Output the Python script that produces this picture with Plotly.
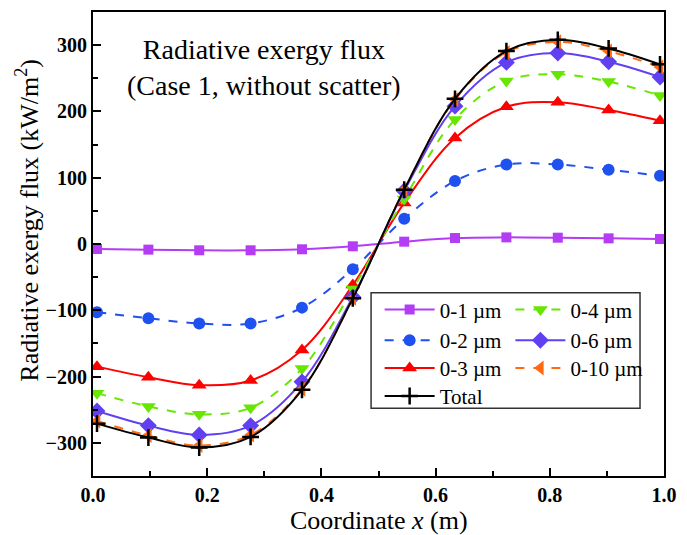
import plotly.graph_objects as go

x = [0.007, 0.097, 0.186, 0.276, 0.366, 0.455, 0.545, 0.634, 0.724, 0.814, 0.903, 0.993]
y_01 = [-7.5, -8.5, -9.5, -9.5, -8, -3.5, 3.5, 9, 10, 9.5, 8.5, 7.5]
y_02 = [-103, -112, -120, -120, -96, -38, 38, 95, 120, 120, 112, 103]
y_03 = [-185, -201, -213, -206, -160, -62, 62, 160, 207, 214, 202, 186]
y_04 = [-225, -245, -257, -247, -188, -68, 68, 188, 246, 256, 245, 224]
y_06 = [-252, -274, -288, -274, -208, -80, 80, 208, 274, 288, 275, 252]
y_10 = [-267, -289, -304, -288, -219, -82, 82, 218, 289, 305, 291, 267]
y_tot = [-271, -292, -307, -291, -220, -82, 82, 219, 291, 308, 295, 271]

# name, values, colour, dash, symbol, size, legend column, legend row
series = [
    ("0-1 µm", y_01, "#B43CF5", "solid", "square", 10, 0, 0),
    ("0-2 µm", y_02, "#1F50F0", "dash", "circle", 12, 0, 1),
    ("0-3 µm", y_03, "#FF0000", "solid", "triangle-up", 13, 0, 2),
    ("0-4 µm", y_04, "#66E600", "dash", "triangle-down", 13, 1, 0),
    ("0-6 µm", y_06, "#6040F0", "solid", "diamond", 13, 1, 1),
    ("0-10 µm", y_10, "#FF6A13", "dash", "triangle-left", 13, 1, 2),
    ("Total", y_tot, "#000000", "solid", "cross-thin", 12, 0, 3),
]

FONT = "Liberation Serif"
col_x = [0.502, 0.731]
row_y = [0.3583, 0.2918, 0.2318, 0.1717]

fig = go.Figure()
legends = {}
for i, (name, y, color, dash, sym, size, col, row) in enumerate(series):
    leg = "legend" if i == 0 else f"legend{i + 1}"
    legends[leg] = dict(x=col_x[col], y=row_y[row], xanchor="left", yanchor="middle",
                        bgcolor="rgba(0,0,0,0)", borderwidth=0, itemwidth=50, visible=True,
                        font=dict(family=FONT, size=21, color="black"))
    fig.add_trace(go.Scatter(
        x=x, y=y, name=name, mode="lines+markers", showlegend=True,
        line=dict(color=color, width=2, dash=dash, shape="spline", smoothing=1.0),
        marker=dict(symbol=sym, size=size, color=color,
                    line=dict(color=color, width=2.5 if sym == "cross-thin" else 0)),
        legend=leg,
    ))

fig.add_shape(type="rect", xref="paper", yref="paper", x0=0.487, x1=0.958, y0=0.146, y1=0.395,
              line=dict(color="#333333", width=1.5))

fig.add_annotation(x=0.299, y=0.880, xref="paper", yref="paper", showarrow=False,
                   text="Radiative exergy flux<br>(Case 1, without scatter)",
                   font=dict(family=FONT, size=28, color="black"), align="center",
                   xanchor="center", yanchor="middle")

fig.add_annotation(x=0.5, y=-0.095, xref="paper", yref="paper", showarrow=False,
                   text="Coordinate <i>x</i> (m)",
                   font=dict(family=FONT, size=26, color="black"),
                   xanchor="center", yanchor="middle")

fig.add_annotation(x=-0.115, y=0.551, xref="paper", yref="paper", showarrow=False,
                   text="Radiative exergy flux (kW/m<sup>2</sup>)", textangle=-90,
                   font=dict(family=FONT, size=26, color="black"),
                   xanchor="center", yanchor="middle")

axis_common = dict(showline=True, linewidth=2, linecolor="black", mirror=True,
                   ticks="inside", ticklen=8, tickwidth=2, tickcolor="black",
                   showgrid=False, zeroline=False,
                   tickfont=dict(family=FONT, size=20, color="black", weight="bold"))

fig.update_xaxes(range=[0, 1], dtick=0.2, tickformat=".1f",
                 minor=dict(ticks="inside", ticklen=5, tickwidth=2, dtick=0.1, tickcolor="black"),
                 **axis_common)
fig.update_yaxes(range=[-350, 350], dtick=100,
                 minor=dict(ticks="inside", ticklen=5, tickwidth=2, dtick=50, tickcolor="black"),
                 **axis_common)

fig.update_layout(
    width=687, height=535,
    margin=dict(l=93, r=15, t=10, b=59),
    plot_bgcolor="white", paper_bgcolor="white",
    font=dict(family=FONT, color="black"),
    showlegend=True,
    **legends,
)

fig.write_html("out.html")
